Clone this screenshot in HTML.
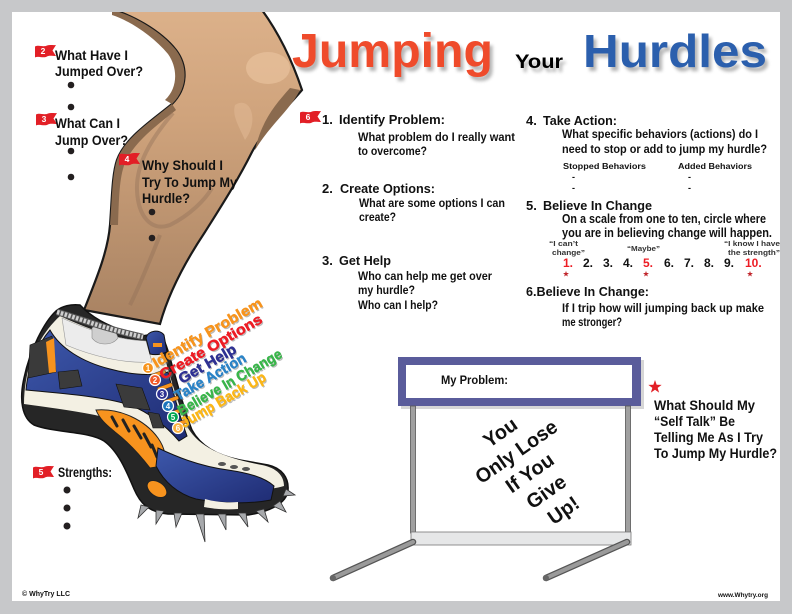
<!DOCTYPE html>
<html><head><meta charset="utf-8"><style>
html,body{margin:0;padding:0;background:#fff;}
svg{display:block;}
text{font-family:"Liberation Sans",Arial,sans-serif;font-weight:bold;}
</style></head><body>
<svg width="792" height="614" viewBox="0 0 792 614" xmlns="http://www.w3.org/2000/svg">
<defs>
<linearGradient id="leg" x1="0" y1="0" x2="0" y2="1">
<stop offset="0" stop-color="#dcb18a"/><stop offset="0.35" stop-color="#cfa37c"/><stop offset="1" stop-color="#a88262"/>
</linearGradient>
<linearGradient id="blu" x1="0" y1="0" x2="1" y2="1">
<stop offset="0" stop-color="#3d58ab"/><stop offset="1" stop-color="#1f2c74"/>
</linearGradient>
<filter id="bl" x="-10%" y="-20%" width="130%" height="150%"><feGaussianBlur stdDeviation="1.6"/></filter>
</defs>
<rect width="792" height="614" fill="#fff"/>

<!-- LEG -->
<path d="M112,10 C130,14 160,30 176,50 C188,66 188,88 172,104 C150,122 125,138 117,160 C112,175 112,200 110,225 C108,250 98,275 84,310 L160,324 C168,295 185,262 205,232 C222,205 238,180 252,152 C265,128 285,110 302,90 C292,60 278,32 262,10 Z" fill="url(#leg)" stroke="#1a1a1a" stroke-width="2.2"/>
<ellipse cx="268" cy="68" rx="22" ry="16" fill="#e8c29c" opacity="0.7"/>
<path d="M112,10 C130,14 160,30 176,50 C188,66 188,88 172,104 L165,100 C178,88 178,68 168,54 C152,35 128,20 112,15 Z" fill="#8a6a4e"/>
<path d="M172,104 C150,122 125,138 117,160 C112,175 112,200 110,225 L118,225 C119,200 119,178 125,163 C134,142 156,126 176,110 Z" fill="#8a6a4e"/>
<path d="M173,113 C150,140 136,165 137,190 C138,215 150,232 170,225 C190,215 205,200 212,188" fill="none" stroke="#95735a" stroke-width="4" opacity="0.45"/>
<path d="M300,90 C290,110 270,125 255,150 C262,120 275,105 290,88 Z" fill="#8a6a4e"/>
<path d="M235,105 C250,95 260,120 245,140 C238,125 232,115 235,105 Z" fill="#e0b892" opacity="0.6"/>
<path d="M160,235 C150,260 140,285 130,305" stroke="#95735a" stroke-width="4" fill="none" opacity="0.5"/>

<!-- SHOE -->
<path d="M56,311 C44,322 30,350 24,378 C19,400 22,418 34,425 C55,433 88,431 104,441 C118,451 126,470 134,489 C140,503 148,512 168,514 L248,515 C268,512 287,504 288,490 C289,478 282,468 268,465 L240,460 C215,455 200,445 192,430 C184,410 178,385 172,365 C168,350 165,340 160,333 L142,336 C116,330 94,320 80,305 C71,304 62,306 56,311 Z" fill="#262626" stroke="#111" stroke-width="1.5"/>
<path d="M60,316 C90,330 122,342 160,342 C168,368 176,400 188,428 C200,448 225,458 262,465 C277,468 284,476 284,486 C268,491 230,492 200,488 C178,482 162,466 150,450 C136,430 118,420 95,415 C70,410 45,407 24,404 C24,365 40,334 60,316 Z" fill="#f3f0e3"/>
<path d="M50,330 C60,348 82,362 110,369 C132,375 152,376 168,372 C173,392 179,414 187,436 L179,441 C166,426 150,413 130,405 C105,397 70,394 26,390 C28,366 38,344 50,330 Z" fill="url(#blu)" stroke="#111" stroke-width="1"/>
<path d="M58,372 L78,370 L82,386 L60,389 Z" fill="#3b3b3b" stroke="#111" stroke-width=".6"/>
<path d="M116,384 L142,388 L150,410 L124,407 Z" fill="#3b3b3b" stroke="#111" stroke-width=".6"/>
<path d="M148,412 L159,414 L164,428 L153,428 Z" fill="#3b3b3b" stroke="#111" stroke-width=".6"/>
<path d="M30,345 L52,336 L56,372 L28,378 Z" fill="#3a3a3a" stroke="#111" stroke-width=".6"/>
<path d="M46,342 L54,338 L56,372 L49,373 Z" fill="#f7931e"/>
<path d="M96,410 C120,408 145,420 158,438 C165,448 167,458 163,466 L150,468 C140,455 128,442 115,432 C108,426 100,420 96,410 Z" fill="#f7931e" stroke="#222" stroke-width="1"/>
<g stroke="#222" stroke-width="3" stroke-linecap="round">
<line x1="112" y1="417" x2="117" y2="426"/><line x1="123" y1="420" x2="129" y2="431"/><line x1="134" y1="426" x2="141" y2="438"/><line x1="144" y1="434" x2="151" y2="447"/><line x1="152" y1="445" x2="157" y2="457"/>
</g>
<path d="M158,448 C175,456 198,466 228,470 C248,473 264,477 274,486 L271,500 C250,504 222,504 196,499 C178,494 164,482 156,466 Z" fill="url(#blu)" stroke="#111" stroke-width="1"/>
<path d="M205,499 C215,502 228,503 238,502 L238,509 C226,510 214,509 204,507 Z" fill="#f3f0e3"/>
<ellipse cx="157" cy="489" rx="11" ry="7" transform="rotate(35 157 489)" fill="#f7931e" stroke="#222"/>
<g fill="#555"><ellipse cx="222" cy="464" rx="4" ry="2"/><ellipse cx="234" cy="467" rx="4" ry="2"/><ellipse cx="246" cy="469" rx="4" ry="2"/></g>
<path d="M62,318 C88,330 118,340 146,341 L152,362 C124,364 92,356 66,345 Z" fill="#ececec" stroke="#999" stroke-width=".6"/>
<path d="M92,328 C100,322 115,326 118,338 C112,346 98,346 92,338 Z" fill="#cfcfcf" stroke="#888" stroke-width=".6"/>
<path d="M57,312 C78,318 102,328 143,337" fill="none" stroke="#555" stroke-width="6.5"/>
<path d="M57,312 C78,318 102,328 143,337" fill="none" stroke="#cfcfcf" stroke-width="4.5" stroke-dasharray="2.5 1.5"/>
<path d="M146,338 C148,330 160,329 164,335 L167,352 C160,355 154,355 150,354 Z" fill="url(#blu)" stroke="#111"/>
<rect x="153" y="343" width="9" height="4" fill="#f7931e"/>
<g fill="#f7931e" stroke="#333" stroke-width=".5">
<rect x="150" y="372" width="16" height="4" rx="2" transform="rotate(-20 158 374)"/>
<rect x="157" y="385" width="16" height="4" rx="2" transform="rotate(-20 165 387)"/>
<rect x="163" y="398" width="16" height="4" rx="2" transform="rotate(-20 171 400)"/>
<rect x="168" y="410" width="16" height="4" rx="2" transform="rotate(-20 176 412)"/>
<rect x="173" y="421" width="16" height="4" rx="2" transform="rotate(-20 181 423)"/>
</g>
<!-- spikes -->
<g fill="#a7a9ac" stroke="#333" stroke-width=".8">
<polygon points="141,505 149,507 138,518"/>
<polygon points="156,510 164,511 156,524"/>
<polygon points="174,513 182,513 176,527"/>
<polygon points="196,514 204,514 205,542"/>
<polygon points="218,514 226,514 226,530"/>
<polygon points="238,513 246,513 248,527"/>
<polygon points="256,511 264,509 268,522"/>
<polygon points="273,506 280,501 286,512"/>
<polygon points="283,496 286,489 295,495"/>
</g>

<!-- numbered circles -->
<g stroke="#fff" stroke-width="1.2">
<circle cx="148" cy="368" r="5.5" fill="#f7941d"/>
<circle cx="155" cy="380" r="5.5" fill="#f15a29"/>
<circle cx="162" cy="394" r="5.5" fill="#2e3192"/>
<circle cx="168" cy="406" r="5.5" fill="#1c75bc"/>
<circle cx="173" cy="417" r="5.5" fill="#00a651"/>
<circle cx="178" cy="428" r="5.5" fill="#fbb040"/>
</g>
<g fill="#fff" font-size="8" text-anchor="middle">
<text x="148" y="371">1</text><text x="155" y="383">2</text><text x="162" y="397">3</text><text x="168" y="409">4</text><text x="173" y="420">5</text><text x="178" y="431">6</text>
</g>
<!-- lace labels -->
<g font-size="14.5" fill="#777" opacity="0.5" transform="translate(1.2,1.4)">
<text x="156" y="368" textLength="124" lengthAdjust="spacingAndGlyphs" transform="rotate(-30 156 368)">Identify Problem</text>
<text x="163" y="380" textLength="116" lengthAdjust="spacingAndGlyphs" transform="rotate(-30 163 380)">Create Options</text>
<text x="182" y="384" textLength="64" lengthAdjust="spacingAndGlyphs" transform="rotate(-30 182 384)">Get Help</text>
<text x="178" y="401" textLength="80" lengthAdjust="spacingAndGlyphs" transform="rotate(-30 178 401)">Take Action</text>
<text x="181" y="416" textLength="118" lengthAdjust="spacingAndGlyphs" transform="rotate(-30 181 416)">Believe In Change</text>
<text x="184" y="428" textLength="96" lengthAdjust="spacingAndGlyphs" transform="rotate(-30 184 428)">Jump Back Up</text>
</g>
<g font-size="14.5" stroke-width="0.5">
<text x="156" y="368" fill="#f7941d" stroke="#f7941d" textLength="124" lengthAdjust="spacingAndGlyphs" transform="rotate(-30 156 368)">Identify Problem</text>
<text x="163" y="380" fill="#ed1c24" stroke="#ed1c24" textLength="116" lengthAdjust="spacingAndGlyphs" transform="rotate(-30 163 380)">Create Options</text>
<text x="182" y="384" fill="#2e3192" stroke="#2e3192" textLength="64" lengthAdjust="spacingAndGlyphs" transform="rotate(-30 182 384)">Get Help</text>
<text x="178" y="401" fill="#2b83c6" stroke="#2b83c6" textLength="80" lengthAdjust="spacingAndGlyphs" transform="rotate(-30 178 401)">Take Action</text>
<text x="181" y="416" fill="#39b54a" stroke="#39b54a" textLength="118" lengthAdjust="spacingAndGlyphs" transform="rotate(-30 181 416)">Believe In Change</text>
<text x="184" y="428" fill="#fbb617" stroke="#fbb617" textLength="96" lengthAdjust="spacingAndGlyphs" transform="rotate(-30 184 428)">Jump Back Up</text>
</g>

<!-- TITLE -->
<g fill="#7a7a7a" opacity="0.55" filter="url(#bl)" transform="translate(3,4)">
<text x="292" y="67" font-size="48" textLength="201" lengthAdjust="spacingAndGlyphs">Jumping</text>
<text x="515" y="68" font-size="19" textLength="48" lengthAdjust="spacingAndGlyphs">Your</text>
<text x="583" y="67" font-size="46" textLength="184" lengthAdjust="spacingAndGlyphs">Hurdles</text>
</g>
<text x="292" y="67" font-size="48" fill="#ef4b2b" textLength="201" lengthAdjust="spacingAndGlyphs">Jumping</text>
<text x="515" y="68" font-size="19" fill="#000" textLength="48" lengthAdjust="spacingAndGlyphs">Your</text>
<text x="583" y="67" font-size="46" fill="#2b5fad" textLength="184" lengthAdjust="spacingAndGlyphs">Hurdles</text>

<!-- FLAGS -->
<g fill="#e21f26">
<path transform="translate(35,45)" d="M0,1.5 C4,-0.5 8,2.5 12,0.5 C15,-0.5 18,0.5 21,0 L17.5,5.5 L21,11 C17,11 14,10 11,12 C7,13 3,11 0,12.5 Z"/>
<path transform="translate(36,113)" d="M0,1.5 C4,-0.5 8,2.5 12,0.5 C15,-0.5 18,0.5 21,0 L17.5,5.5 L21,11 C17,11 14,10 11,12 C7,13 3,11 0,12.5 Z"/>
<path transform="translate(119,153)" d="M0,1.5 C4,-0.5 8,2.5 12,0.5 C15,-0.5 18,0.5 21,0 L17.5,5.5 L21,11 C17,11 14,10 11,12 C7,13 3,11 0,12.5 Z"/>
<path transform="translate(300,111)" d="M0,1.5 C4,-0.5 8,2.5 12,0.5 C15,-0.5 18,0.5 21,0 L17.5,5.5 L21,11 C17,11 14,10 11,12 C7,13 3,11 0,12.5 Z"/>
<path transform="translate(33,466)" d="M0,1.5 C4,-0.5 8,2.5 12,0.5 C15,-0.5 18,0.5 21,0 L17.5,5.5 L21,11 C17,11 14,10 11,12 C7,13 3,11 0,12.5 Z"/>
<path transform="translate(411,372) scale(1.15,1.2)" d="M0,1.5 C4,-0.5 8,2.5 12,0.5 C15,-0.5 18,0.5 21,0 L17.5,5.5 L21,11 C17,11 14,10 11,12 C7,13 3,11 0,12.5 Z"/>
</g>
<g fill="#fff" font-size="8.5" text-anchor="middle">
<text x="43" y="54">2</text><text x="44" y="122">3</text><text x="127" y="162">4</text><text x="308" y="120">6</text><text x="41" y="475">5</text>
</g>
<text x="421" y="385" font-size="11" fill="#111" text-anchor="middle">1</text>

<!-- LEFT TEXT -->
<g font-size="13.5" fill="#111">
<text x="55" y="60" textLength="73" lengthAdjust="spacingAndGlyphs">What Have I</text>
<text x="55" y="76" textLength="88" lengthAdjust="spacingAndGlyphs">Jumped Over?</text>
<text x="55" y="128" textLength="65" lengthAdjust="spacingAndGlyphs">What Can I</text>
<text x="55" y="145" textLength="73" lengthAdjust="spacingAndGlyphs">Jump Over?</text>
<text x="142" y="170" textLength="81" lengthAdjust="spacingAndGlyphs">Why Should I</text>
<text x="142" y="187" textLength="95" lengthAdjust="spacingAndGlyphs">Try To Jump My</text>
<text x="142" y="203" textLength="48" lengthAdjust="spacingAndGlyphs">Hurdle?</text>
<text x="58" y="477" textLength="54" lengthAdjust="spacingAndGlyphs">Strengths:</text>
</g>
<g fill="#231f20">
<circle cx="71" cy="85" r="3.3"/><circle cx="71" cy="107" r="3.3"/>
<circle cx="71" cy="151" r="3.3"/><circle cx="71" cy="177" r="3.3"/>
<circle cx="152" cy="212" r="3.3"/><circle cx="152" cy="238" r="3.3"/>
<circle cx="67" cy="490" r="3.5"/><circle cx="67" cy="508" r="3.5"/><circle cx="67" cy="526" r="3.5"/>
</g>

<!-- CENTER COLUMN -->
<g fill="#111">
<g font-size="13">
<text x="322" y="124">1.</text><text x="339" y="124" textLength="106" lengthAdjust="spacingAndGlyphs">Identify Problem:</text>
<text x="322" y="193">2.</text><text x="340" y="193" textLength="95" lengthAdjust="spacingAndGlyphs">Create Options:</text>
<text x="322" y="265">3.</text><text x="339" y="265" textLength="52" lengthAdjust="spacingAndGlyphs">Get Help</text>
</g>
<g font-size="11.5">
<text x="358" y="141" textLength="157" lengthAdjust="spacingAndGlyphs">What problem do I really want</text>
<text x="358" y="155" textLength="69" lengthAdjust="spacingAndGlyphs">to overcome?</text>
<text x="359" y="207" textLength="146" lengthAdjust="spacingAndGlyphs">What are some options I can</text>
<text x="359" y="221" textLength="37" lengthAdjust="spacingAndGlyphs">create?</text>
<text x="358" y="280" textLength="134" lengthAdjust="spacingAndGlyphs">Who can help me get over</text>
<text x="358" y="294" textLength="57" lengthAdjust="spacingAndGlyphs">my hurdle?</text>
<text x="358" y="309" textLength="80" lengthAdjust="spacingAndGlyphs">Who can I help?</text>
</g>
</g>

<!-- RIGHT COLUMN -->
<g fill="#111">
<g font-size="13">
<text x="526" y="125">4.</text><text x="543" y="125" textLength="74" lengthAdjust="spacingAndGlyphs">Take Action:</text>
<text x="526" y="210">5.</text><text x="543" y="210" textLength="109" lengthAdjust="spacingAndGlyphs">Believe In Change</text>
<text x="526" y="296" textLength="123" lengthAdjust="spacingAndGlyphs">6.Believe In Change:</text>
</g>
<g font-size="11.5">
<text x="562" y="138" textLength="196" lengthAdjust="spacingAndGlyphs">What specific behaviors (actions) do I</text>
<text x="562" y="153" textLength="205" lengthAdjust="spacingAndGlyphs">need to stop or add to jump my hurdle?</text>
<text x="562" y="312" textLength="202" lengthAdjust="spacingAndGlyphs">If I trip how will jumping back up make</text>
<text x="562" y="326" textLength="60" lengthAdjust="spacingAndGlyphs">me stronger?</text>
</g>
<g font-size="12.5">
<text x="562" y="223" textLength="204" lengthAdjust="spacingAndGlyphs">On a scale from one to ten, circle where</text>
<text x="562" y="237" textLength="210" lengthAdjust="spacingAndGlyphs">you are in believing change will happen.</text>
</g>
<g font-size="8.5">
<text x="563" y="169" textLength="83" lengthAdjust="spacingAndGlyphs">Stopped Behaviors</text>
<text x="678" y="169" textLength="74" lengthAdjust="spacingAndGlyphs">Added Behaviors</text>
</g>
<g font-size="9">
<text x="572" y="180">-</text><text x="572" y="191">-</text>
<text x="688" y="180">-</text><text x="688" y="191">-</text>
</g>
<g font-size="7" fill="#333">
<text x="549" y="246" textLength="29" lengthAdjust="spacingAndGlyphs">“I can’t</text>
<text x="552" y="255" textLength="33" lengthAdjust="spacingAndGlyphs">change”</text>
<text x="627" y="251" textLength="33" lengthAdjust="spacingAndGlyphs">“Maybe”</text>
<text x="724" y="246" textLength="56" lengthAdjust="spacingAndGlyphs">“I know I have</text>
<text x="728" y="255" textLength="52" lengthAdjust="spacingAndGlyphs">the strength”</text>
</g>
<g font-size="12">
<text x="563" y="267" fill="#ed1c24">1.</text>
<text x="583" y="267">2.</text><text x="603" y="267">3.</text><text x="623" y="267">4.</text>
<text x="643" y="267" fill="#ed1c24">5.</text>
<text x="664" y="267">6.</text><text x="684" y="267">7.</text><text x="704" y="267">8.</text><text x="724" y="267">9.</text>
<text x="745" y="267" fill="#ed1c24">10.</text>
</g>
</g>
<g fill="#c1272d">
<path transform="translate(566,274) scale(0.45)" d="M0,-7 L1.65,-2.27 L6.66,-2.16 L2.66,0.87 L4.11,5.66 L0,2.8 L-4.11,5.66 L-2.66,0.87 L-6.66,-2.16 L-1.65,-2.27 Z"/>
<path transform="translate(646,274) scale(0.45)" d="M0,-7 L1.65,-2.27 L6.66,-2.16 L2.66,0.87 L4.11,5.66 L0,2.8 L-4.11,5.66 L-2.66,0.87 L-6.66,-2.16 L-1.65,-2.27 Z"/>
<path transform="translate(750,274) scale(0.45)" d="M0,-7 L1.65,-2.27 L6.66,-2.16 L2.66,0.87 L4.11,5.66 L0,2.8 L-4.11,5.66 L-2.66,0.87 L-6.66,-2.16 L-1.65,-2.27 Z"/>
</g>

<!-- HURDLE -->
<rect x="401" y="360" width="243" height="49" fill="#bbb" opacity="0.6"/>
<rect x="398" y="357" width="243" height="49" fill="#5a5c9b"/>
<rect x="406" y="365" width="226" height="33" fill="#fff"/>
<rect x="410.5" y="406" width="5" height="127" fill="#a0a0a0" stroke="#555" stroke-width="0.8"/>
<rect x="625.5" y="406" width="5" height="127" fill="#a0a0a0" stroke="#555" stroke-width="0.8"/>
<rect x="411" y="532" width="220" height="13" fill="#e6e7e8" stroke="#777" stroke-width="0.8"/>
<g stroke-linecap="round">
<line x1="413" y1="542" x2="333" y2="578" stroke="#555" stroke-width="6.5"/>
<line x1="413" y1="542" x2="333" y2="578" stroke="#9a9a9a" stroke-width="4"/>
<line x1="627" y1="542" x2="546" y2="578" stroke="#555" stroke-width="6.5"/>
<line x1="627" y1="542" x2="546" y2="578" stroke="#9a9a9a" stroke-width="4"/>
</g>
<circle cx="333" cy="578" r="3" fill="#666"/><circle cx="546" cy="578" r="3" fill="#666"/>
<text x="441" y="384" font-size="12" fill="#111" textLength="67" lengthAdjust="spacingAndGlyphs">My Problem:</text>
<g transform="rotate(-35 531 471)" font-size="20" fill="#111" text-anchor="middle">
<text x="528" y="428.5">You</text>
<text x="530" y="453.5" textLength="95" lengthAdjust="spacingAndGlyphs">Only Lose</text>
<text x="529" y="478.5">If You</text>
<text x="531.5" y="503.5">Give</text>
<text x="535" y="528.5">Up!</text>
</g>
<path transform="translate(655,387)" fill="#e21f26" d="M0,-7 L1.65,-2.27 L6.66,-2.16 L2.66,0.87 L4.11,5.66 L0,2.8 L-4.11,5.66 L-2.66,0.87 L-6.66,-2.16 L-1.65,-2.27 Z"/>
<g font-size="13.5" fill="#111">
<text x="654" y="410" textLength="101" lengthAdjust="spacingAndGlyphs">What Should My</text>
<text x="654" y="426" textLength="81" lengthAdjust="spacingAndGlyphs">“Self Talk” Be</text>
<text x="654" y="442" textLength="109" lengthAdjust="spacingAndGlyphs">Telling Me As I Try</text>
<text x="654" y="458" textLength="123" lengthAdjust="spacingAndGlyphs">To Jump My Hurdle?</text>
</g>

<!-- FOOTER -->
<text x="22" y="596" font-size="7" fill="#111" textLength="48" lengthAdjust="spacingAndGlyphs">© WhyTry LLC</text>
<text x="718" y="597" font-size="6.5" fill="#111" textLength="50" lengthAdjust="spacingAndGlyphs">www.Whytry.org</text>

<!-- FRAME -->
<path fill-rule="evenodd" fill="#c7c8ca" d="M0,0 H792 V614 H0 Z M12,12 V601 H780 V12 Z"/>
</svg>
</body></html>
